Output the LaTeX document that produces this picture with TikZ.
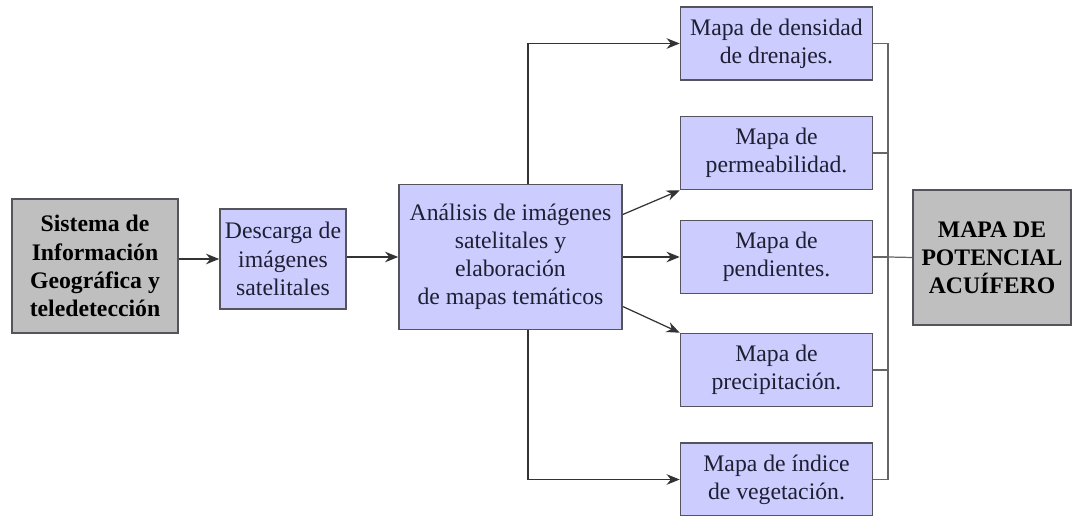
\documentclass[tikz,border=0pt]{standalone}
\usepackage{fontspec}
\setmainfont{Liberation Serif}
\usepackage{xcolor}
\definecolor{boxblue}{rgb}{0.80,0.80,1.00}
\definecolor{boxgray}{rgb}{0.75,0.75,0.75}
\definecolor{edgegray}{rgb}{0.33,0.33,0.36}
\definecolor{linegray}{rgb}{0.40,0.40,0.40}
\definecolor{textdark}{rgb}{0.12,0.12,0.20}
\usetikzlibrary{arrows.meta}

\begin{document}
\begin{tikzpicture}[x=0.02cm, y=-0.02cm,
  every node/.style={font=\fontsize{13.5}{16}\selectfont, align=center, inner sep=0pt},
  bluebox/.style={draw=edgegray, line width=0.9pt, fill=boxblue, text=textdark},
  graybox/.style={draw=edgegray, line width=0.9pt, fill=boxgray, font=\fontsize{13.5}{16}\selectfont\bfseries},
  mapbox/.style={bluebox, minimum width=3.84cm, minimum height=1.46cm},
  link/.style={draw=linegray, line width=0.7pt},
  arr/.style={link, -{Stealth[length=7.5pt, width=6pt]}, draw=black!80}]
  \useasboundingbox (0,0) rectangle (1072,516);

  % Input blocks
  \node[graybox, minimum width=3.32cm, minimum height=2.68cm] (sig) at (95,266)
    {Sistema de\\Información\\Geográfica y\\teledetección};
  \node[bluebox, minimum width=2.52cm, minimum height=2.0cm] (desc) at (283,259)
    {Descarga de\\imágenes\\satelitales};
  \node[bluebox, minimum width=4.46cm, minimum height=2.9cm] (anal) at (510.5,257)
    {Análisis de imágenes\\satelitales y\\elaboración\\de mapas temáticos};

  % Thematic maps
  \node[mapbox] (m1) at (776.5,43.5) {Mapa de densidad\\de drenajes.};
  \node[mapbox] (m2) at (776.5,153) {Mapa de\\permeabilidad.};
  \node[mapbox] (m3) at (776.5,257) {Mapa de\\pendientes.};
  \node[mapbox] (m4) at (776.5,370) {Mapa de\\precipitación.};
  \node[mapbox] (m5) at (776.5,479.5) {Mapa de índice\\de vegetación.};

  % Result
  \node[graybox, minimum width=3.16cm, minimum height=2.7cm] (mapa) at (992,257.5)
    {MAPA DE\\POTENCIAL\\ACUÍFERO};

  % Flow
  \draw[arr] (sig.east |- desc.west) -- (desc.west);
  \draw[arr] (desc.east |- anal.west) -- (anal.west);
  \coordinate (split) at (528,0);
  \draw[arr] (anal.north -| split) |- (m1.west);
  \draw[arr] ([yshift=0.85cm]anal.east) -- (m2.south west);
  \draw[arr] (anal.east) -- (m3.west);
  \draw[arr] ([yshift=-0.99cm]anal.east) -- (m4.north west);
  \draw[arr] (anal.south -| split) |- (m5.west);

  % Collector bus
  \coordinate (bustop) at (888,43.5);
  \coordinate (busbot) at (888,479.5);
  \draw[link] (m1.east) -- (bustop) -- (busbot) -- (m5.east);
  \foreach \m in {m2,m3,m4}
    \draw[link] (\m.east) -- (\m.east -| bustop);
  \draw[link] (m3.east -| bustop) -- (mapa.west);
\end{tikzpicture}
\end{document}
